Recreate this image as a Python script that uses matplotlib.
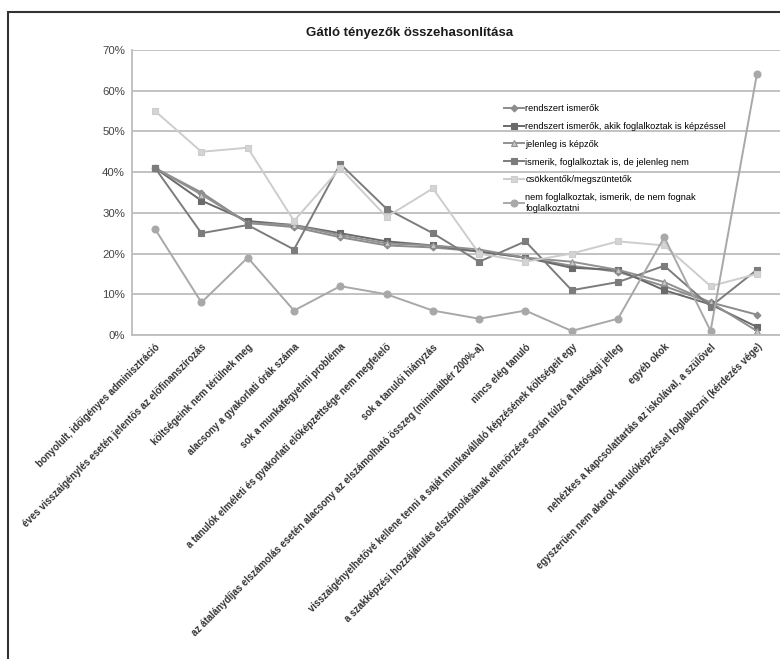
import matplotlib
matplotlib.use('Agg')
import matplotlib.pyplot as plt
from matplotlib.patches import Rectangle
from matplotlib.ticker import PercentFormatter

plt.rcParams['font.family'] = ['Liberation Sans', 'DejaVu Sans']

categories = [
    "bonyolult, időigényes adminisztráció",
    "éves visszaigénylés esetén jelentős az előfinanszírozás",
    "költségeink nem térülnek meg",
    "alacsony a gyakorlati órák száma",
    "sok a munkafegyelmi probléma",
    "a tanulók elméleti és gyakorlati előképzettsége nem megfelelő",
    "sok a tanulói hiányzás",
    "az átalánydíjas elszámolás esetén alacsony az elszámolható összeg (minimálbér 200%-a)",
    "nincs elég tanuló",
    "visszaigényelhetővé kellene tenni a saját munkavállaló képzésének költségeit egy",
    "a szakképzési hozzájárulás elszámolásának ellenőrzése során túlzó a hatósági jelleg",
    "egyéb okok",
    "nehézkes a kapcsolattartás az iskolával, a szülővel",
    "egyszerűen nem akarok tanulóképzéssel foglalkozni (kérdezés vége)",
]

rendszert_ismerok = [41, 35, 27.5, 26.5, 24, 22, 21.5, 20.5, 19, 17, 15.5, 12, 8, 5]
foglalkoztak_is = [41, 33, 28, 27, 25, 23, 22, 20.5, 19, 16.5, 16, 11, 7.5, 2]
jelenleg_kepzok = [41, 34.5, 27.5, 27, 24.5, 22.5, 22, 21, 19, 18, 16, 13, 8, 1]
jelenleg_nem = [41, 25, 27, 21, 42, 31, 25, 18, 23, 11, 13, 17, 7, 16]
csokkentok = [55, 45, 46, 28, 41, 29, 36, 20, 18, 20, 23, 22, 12, 15]
nem_fognak = [26, 8, 19, 6, 12, 10, 6, 4, 6, 1, 4, 24, 1, 64]

series = [
    ("rendszert ismerők", rendszert_ismerok, '#8c8c8c', 'D', 3.5, '#8c8c8c'),
    ("rendszert ismerők, akik foglalkoztak is képzéssel", foglalkoztak_is, '#6a6a6a', 's', 5, '#6a6a6a'),
    ("jelenleg is képzők", jelenleg_kepzok, '#909090', '^', 5, '#c8c8c8'),
    ("ismerik, foglalkoztak is, de jelenleg nem", jelenleg_nem, '#7c7c7c', 's', 5, '#7c7c7c'),
    ("csökkentők/megszüntetők", csokkentok, '#cdcdcd', 's', 5, '#d4d4d4'),
    ("nem foglalkoztak, ismerik, de nem fognak\nfoglalkoztatni", nem_fognak, '#a8a8a8', 'o', 5, '#a8a8a8'),
]

fig = plt.figure(figsize=(7.8, 6.59), dpi=100)
ax = fig.add_axes([132 / 780, 1 - 335 / 659, 1 - 132 / 780, 285 / 659])

x = list(range(len(categories)))
for label, vals, col, mk, ms, fc in series:
    ax.plot(x, vals, color=col, marker=mk, markersize=ms, markerfacecolor=fc,
            markeredgecolor=col, markeredgewidth=0.8, linewidth=1.4, label=label)

ax.set_xlim(-0.5, len(categories) - 0.5)
ax.set_ylim(0, 70)
ax.set_yticks(range(0, 71, 10))
ax.yaxis.set_major_formatter(PercentFormatter(decimals=0))
ax.grid(axis='y', color='#bdbdbd', linewidth=1.3)
ax.set_axisbelow(True)
for s in ['top', 'right']:
    ax.spines[s].set_visible(False)
ax.spines['left'].set_color('#bdbdbd')
ax.spines['bottom'].set_color('#bdbdbd')
ax.spines['left'].set_linewidth(1.3)
ax.spines['bottom'].set_linewidth(1.3)
ax.tick_params(axis='y', length=0, labelsize=8.2, labelcolor='#444444', pad=5)
ax.tick_params(axis='x', length=0, pad=5)
ax.set_xticks(x)
ax.set_xticklabels(categories, rotation=45, ha='right', rotation_mode='anchor',
                   fontsize=6.9, fontweight='bold', color='#333333')

fig.text(410 / 780, 1 - 33 / 659, "Gátló tényezők összehasonlítása", ha='center', va='center',
         fontsize=9.5, fontweight='bold', color='#1a1a1a')

fig.legend(loc='upper left', bbox_to_anchor=(504 / 780, 1 - 104 / 659), frameon=False,
           fontsize=6.7, handlelength=2.1, handletextpad=0.2, labelspacing=0.95,
           borderaxespad=0, borderpad=0)

fig.add_artist(Rectangle((8 / 780, -0.2), 1.0, 1 - 12 / 659 + 0.2, transform=fig.transFigure,
                         fill=False, edgecolor='#333333', linewidth=1.5, clip_on=False))

fig.savefig('out.png', dpi=100)
